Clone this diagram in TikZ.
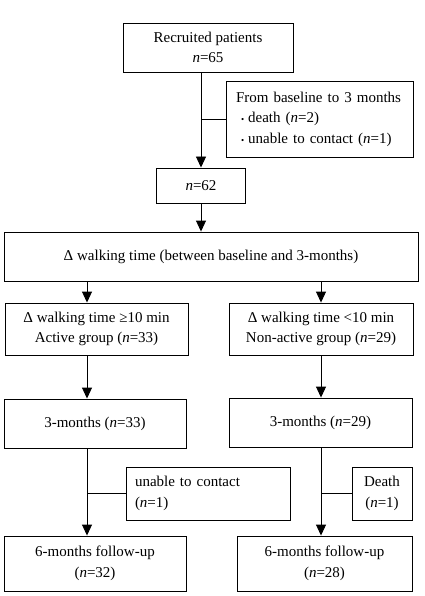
\documentclass[tikz,border=0pt]{standalone}
\usepackage{fontspec}
\setmainfont{Liberation Serif}
\usetikzlibrary{arrows.meta}
\begin{document}
\begin{tikzpicture}[x=1pt,y=-1pt,
  box/.style={draw, line width=0.9pt, rectangle, align=center, inner sep=0pt,
    font=\fontsize{15}{20.5}\selectfont},
  lbox/.style={box, align=left},
  arr/.style={line width=0.9pt, -{Triangle[width=10pt,length=11pt]}},
  ln/.style={line width=0.9pt}]
\useasboundingbox[fill=white] (0,0) rectangle (424,596);
\newcommand{\nn}{\textit{n}}
\newcommand{\bul}{\hspace*{5pt}{\fontsize{9}{9}\selectfont •}\hspace{4pt}}
\node[box, minimum width=170pt, minimum height=49pt] (rec) at (208,47.5) {Recruited patients\\\nn=65};
\node[lbox, minimum width=187pt, minimum height=76pt, text width=167pt, inner xsep=10pt] (side1) at (319.5,119) {From baseline to 3 months\\\bul death (\nn=2)\\\bul unable to contact (\nn=1)};
\node[box, minimum width=89pt, minimum height=35pt] (n62) at (201,185.5) {\nn=62};
\node[box, minimum width=414pt, minimum height=49pt] (delta) at (211,256.5) {Δ walking time (between baseline and 3-months)};
\node[box, minimum width=183pt, minimum height=52pt] (act) at (96.5,329) {Δ walking time ≥10 min\\Active group (\nn=33)};
\node[box, minimum width=184pt, minimum height=52pt] (nonact) at (321,329) {Δ walking time <10 min\\Non-active group (\nn=29)};
\node[box, minimum width=182pt, minimum height=49pt] (m3a) at (95,423.5) {3-months (\nn=33)};
\node[box, minimum width=183pt, minimum height=49pt] (m3b) at (320.5,422.5) {3-months (\nn=29)};
\node[lbox, minimum width=164pt, minimum height=53pt, text width=146pt, inner xsep=9pt] (sideA) at (208,493.5) {unable to contact\\(\nn=1)};
\node[box, minimum width=60pt, minimum height=53pt] (sideB) at (382,493.5) {Death\\(\nn=1)};
\node[box, minimum width=182pt, minimum height=55pt] (f6a) at (95,563.5) {6-months follow-up\\(\nn=32)};
\node[box, minimum width=175pt, minimum height=55pt] (f6b) at (324.5,563.5) {6-months follow-up\\(\nn=28)};
\coordinate (colA) at (87,0);
\coordinate (colB) at (321,0);
% connectors
\draw[arr] (rec.south -| n62.north) -- (n62.north);
\draw[ln] (side1.west) -- (side1.west -| n62.north);
\draw[arr] (n62.south) -- (delta.north -| n62.south);
\draw[arr] (delta.south -| colA) -- (act.north -| colA);
\draw[arr] (delta.south -| colB) -- (nonact.north -| colB);
\draw[arr] (act.south -| colA) -- (m3a.north -| colA);
\draw[arr] (nonact.south -| colB) -- (m3b.north -| colB);
\draw[arr] (m3a.south -| colA) -- (f6a.north -| colA);
\draw[arr] (m3b.south -| colB) -- (f6b.north -| colB);
\draw[ln] (sideA.west) -- (sideA.west -| colA);
\draw[ln] (sideB.west) -- (sideB.west -| colB);
\end{tikzpicture}
\end{document}
